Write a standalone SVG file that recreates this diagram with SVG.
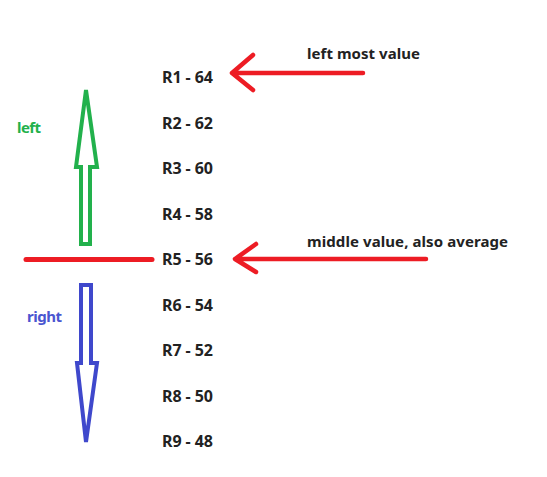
<svg xmlns="http://www.w3.org/2000/svg" width="547" height="477" viewBox="0 0 547 477">
<style>
text{font-family:"Noto Sans","Open Sans","Liberation Sans",sans-serif;font-weight:bold;font-size:16px;fill:#222}
.lbl{font-size:15px}
.red{fill:none;stroke:#ed1c24;stroke-width:4.5;stroke-linecap:round;stroke-linejoin:round}
.grn{fill:none;stroke:#22b14c;stroke-width:4;stroke-linejoin:miter}
.blu{fill:none;stroke:#3f48cc;stroke-width:4;stroke-linejoin:miter}
</style>
<rect width="547" height="477" fill="#fff"/>
<g id="values">
<text x="162" y="83" textLength="51">R1 - 64</text>
<text x="162" y="128.5" textLength="51">R2 - 62</text>
<text x="162" y="174" textLength="51">R3 - 60</text>
<text x="162" y="219.5" textLength="51">R4 - 58</text>
<text x="162" y="265" textLength="51">R5 - 56</text>
<text x="162" y="310.5" textLength="51">R6 - 54</text>
<text x="162" y="356" textLength="51">R7 - 52</text>
<text x="162" y="401.5" textLength="51">R8 - 50</text>
<text x="162" y="447" textLength="51">R9 - 48</text>
</g>
<g id="left-arrow">
<path class="grn" d="M81,244 L81,167 L76,167 L86,90 L97,167 L90,167 L90,244 Z"/>
<text x="17" y="133" class="lbl" style="fill:#22b14c" textLength="24">left</text>
</g>
<g id="right-arrow">
<path class="blu" d="M81,285 L91,285 L91,363 L97,363 L86,442 L77,363 L81,363 Z"/>
<text x="27" y="322" class="lbl" style="fill:#4a55d0" textLength="35">right</text>
</g>
<g id="middle-line">
<line class="red" x1="26" y1="259.5" x2="152" y2="259.5" style="stroke-width:5"/>
</g>
<g id="connectors">
<path class="red" d="M363,73 L232,73 M253,55 L232,73 L253,90"/>
<path class="red" d="M426,259 L235,259 M256,244 L235,259 L256,272"/>
</g>
<g id="annotations">
<text x="307" y="59" class="lbl" textLength="113">left most value</text>
<text x="307" y="247" class="lbl" textLength="201">middle value, also average</text>
</g>
</svg>
